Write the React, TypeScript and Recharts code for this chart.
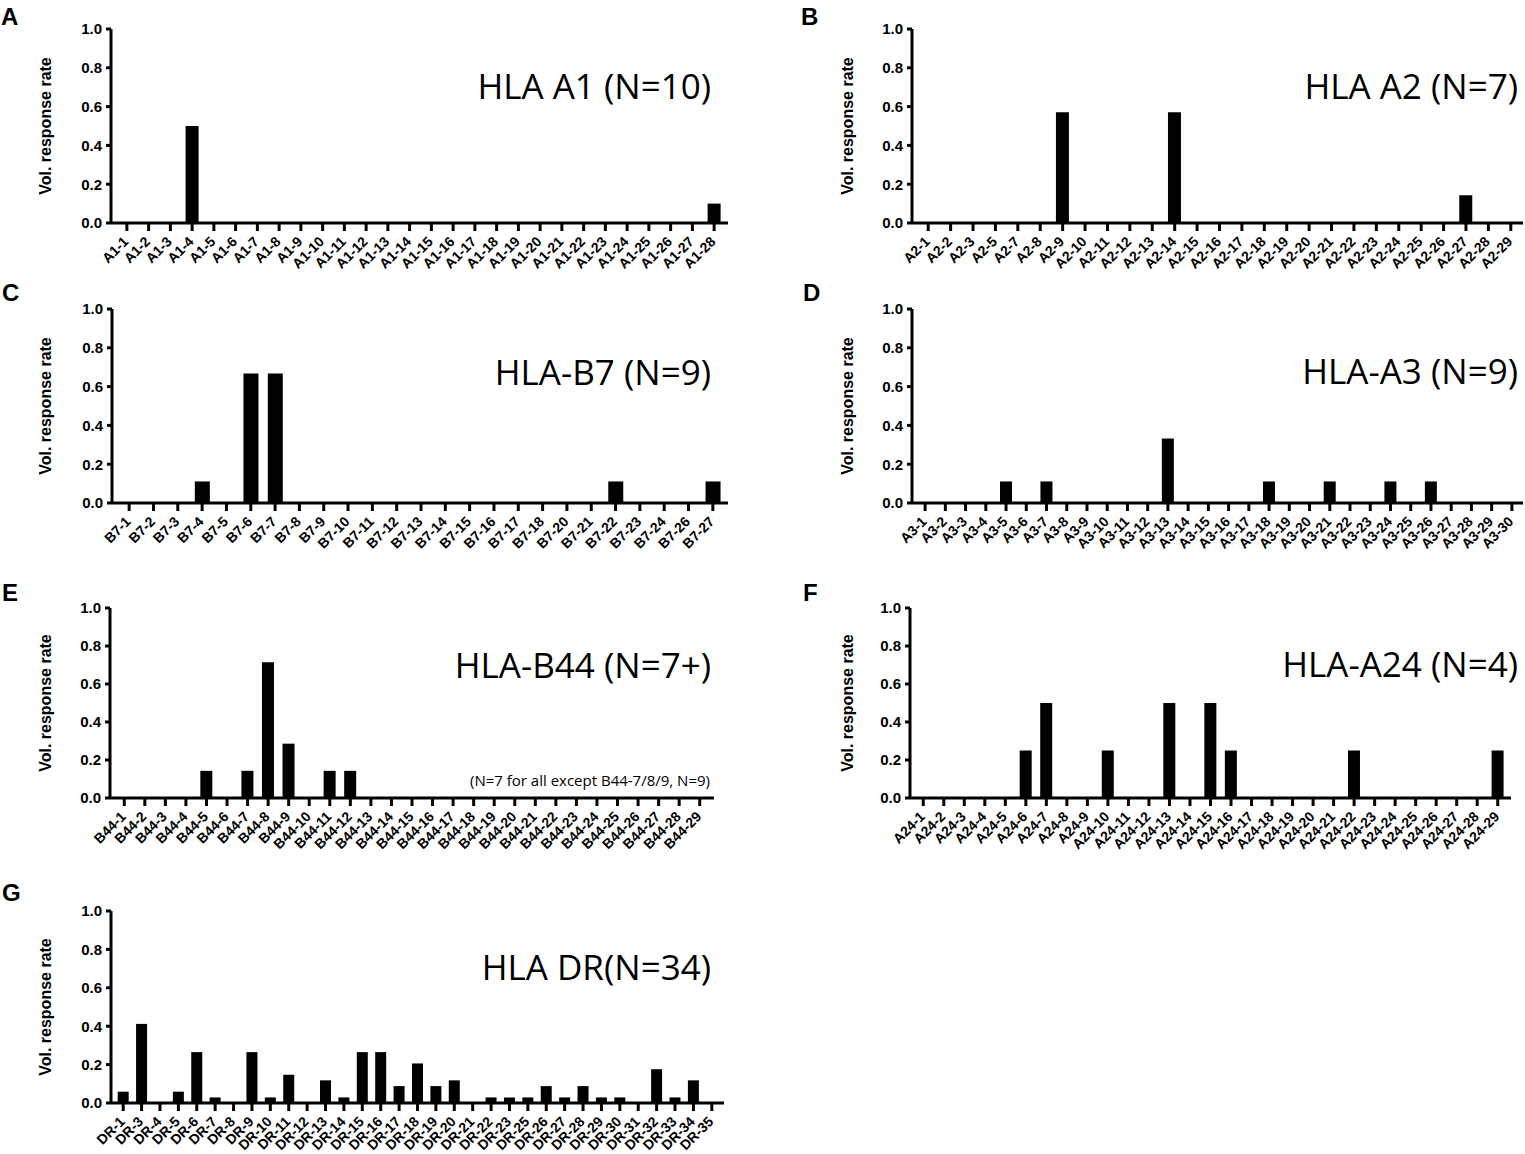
import { Bar, BarChart, XAxis, YAxis } from 'recharts'

const FONT = "'Liberation Sans', Arial, sans-serif"
const TITLE_FONT = "'Open Sans', 'Noto Sans', sans-serif"

const yTicks = [0, 0.2, 0.4, 0.6, 0.8, 1.0]

// A: HLA A1
const a1Labels = [
  'A1-1', 'A1-2', 'A1-3', 'A1-4', 'A1-5', 'A1-6', 'A1-7', 'A1-8', 'A1-9', 'A1-10',
  'A1-11', 'A1-12', 'A1-13', 'A1-14', 'A1-15', 'A1-16', 'A1-17', 'A1-18', 'A1-19', 'A1-20',
  'A1-21', 'A1-22', 'A1-23', 'A1-24', 'A1-25', 'A1-26', 'A1-27', 'A1-28',
]
const a1Values = [
  0, 0, 0, 0.5, 0, 0, 0, 0, 0, 0,
  0, 0, 0, 0, 0, 0, 0, 0, 0, 0,
  0, 0, 0, 0, 0, 0, 0, 0.1,
]

// B: HLA A2
const a2Labels = [
  'A2-1', 'A2-2', 'A2-3', 'A2-5', 'A2-7', 'A2-8', 'A2-9', 'A2-10', 'A2-11', 'A2-12',
  'A2-13', 'A2-14', 'A2-15', 'A2-16', 'A2-17', 'A2-18', 'A2-19', 'A2-20', 'A2-21', 'A2-22',
  'A2-23', 'A2-24', 'A2-25', 'A2-26', 'A2-27', 'A2-28', 'A2-29',
]
const a2Values = [
  0, 0, 0, 0, 0, 0, 0.571, 0, 0, 0,
  0, 0.571, 0, 0, 0, 0, 0, 0, 0, 0,
  0, 0, 0, 0, 0.143, 0, 0,
]

// C: HLA-B7
const b7Labels = [
  'B7-1', 'B7-2', 'B7-3', 'B7-4', 'B7-5', 'B7-6', 'B7-7', 'B7-8', 'B7-9', 'B7-10',
  'B7-11', 'B7-12', 'B7-13', 'B7-14', 'B7-15', 'B7-16', 'B7-17', 'B7-18', 'B7-20', 'B7-21',
  'B7-22', 'B7-23', 'B7-24', 'B7-26', 'B7-27',
]
const b7Values = [
  0, 0, 0, 0.111, 0, 0.667, 0.667, 0, 0, 0,
  0, 0, 0, 0, 0, 0, 0, 0, 0, 0,
  0.111, 0, 0, 0, 0.111,
]

// D: HLA-A3
const a3Labels = [
  'A3-1', 'A3-2', 'A3-3', 'A3-4', 'A3-5', 'A3-6', 'A3-7', 'A3-8', 'A3-9', 'A3-10',
  'A3-11', 'A3-12', 'A3-13', 'A3-14', 'A3-15', 'A3-16', 'A3-17', 'A3-18', 'A3-19', 'A3-20',
  'A3-21', 'A3-22', 'A3-23', 'A3-24', 'A3-25', 'A3-26', 'A3-27', 'A3-28', 'A3-29', 'A3-30',
]
const a3Values = [
  0, 0, 0, 0, 0.111, 0, 0.111, 0, 0, 0,
  0, 0, 0.333, 0, 0, 0, 0, 0.111, 0, 0,
  0.111, 0, 0, 0.111, 0, 0.111, 0, 0, 0, 0,
]

// E: HLA-B44
const b44Labels = [
  'B44-1', 'B44-2', 'B44-3', 'B44-4', 'B44-5', 'B44-6', 'B44-7', 'B44-8', 'B44-9', 'B44-10',
  'B44-11', 'B44-12', 'B44-13', 'B44-14', 'B44-15', 'B44-16', 'B44-17', 'B44-18', 'B44-19', 'B44-20',
  'B44-21', 'B44-22', 'B44-23', 'B44-24', 'B44-25', 'B44-26', 'B44-27', 'B44-28', 'B44-29',
]
const b44Values = [
  0, 0, 0, 0, 0.143, 0, 0.143, 0.714, 0.286, 0,
  0.143, 0.143, 0, 0, 0, 0, 0, 0, 0, 0,
  0, 0, 0, 0, 0, 0, 0, 0, 0,
]

// F: HLA-A24
const a24Labels = [
  'A24-1', 'A24-2', 'A24-3', 'A24-4', 'A24-5', 'A24-6', 'A24-7', 'A24-8', 'A24-9', 'A24-10',
  'A24-11', 'A24-12', 'A24-13', 'A24-14', 'A24-15', 'A24-16', 'A24-17', 'A24-18', 'A24-19', 'A24-20',
  'A24-21', 'A24-22', 'A24-23', 'A24-24', 'A24-25', 'A24-26', 'A24-27', 'A24-28', 'A24-29',
]
const a24Values = [
  0, 0, 0, 0, 0, 0.25, 0.5, 0, 0, 0.25,
  0, 0, 0.5, 0, 0.5, 0.25, 0, 0, 0, 0,
  0, 0.25, 0, 0, 0, 0, 0, 0, 0.25,
]

// G: HLA DR
const drLabels = [
  'DR-1', 'DR-3', 'DR-4', 'DR-5', 'DR-6', 'DR-7', 'DR-8', 'DR-9', 'DR-10', 'DR-11',
  'DR-12', 'DR-13', 'DR-14', 'DR-15', 'DR-16', 'DR-17', 'DR-18', 'DR-19', 'DR-20', 'DR-21',
  'DR-22', 'DR-23', 'DR-25', 'DR-26', 'DR-27', 'DR-28', 'DR-29', 'DR-30', 'DR-31', 'DR-32',
  'DR-33', 'DR-34', 'DR-35',
]
const drValues = [
  0.059, 0.412, 0, 0.059, 0.265, 0.029, 0, 0.265, 0.029, 0.147,
  0, 0.118, 0.029, 0.265, 0.265, 0.088, 0.206, 0.088, 0.118, 0,
  0.029, 0.029, 0.029, 0.088, 0.029, 0.088, 0.029, 0.029, 0, 0.176,
  0.029, 0.118, 0,
]

type Box = { left: number; top: number; width: number; height: number }
type Plot = { l: number; t: number; r: number; b: number }

type PanelDef = {
  letter: string
  title: string
  note?: string
  labels: string[]
  values: number[]
  box: Box
  plot: Plot
  pad: [number, number]
  labelX: number
  letterPos: [number, number]
  titlePos: [number, number]
  notePos?: [number, number]
}

const panels: PanelDef[] = [
  {
    letter: 'A', title: 'HLA A1 (N=10)', labels: a1Labels, values: a1Values,
    box: { left: 0, top: 0, width: 740, height: 290 },
    plot: { l: 111, t: 29, r: 728, b: 223 }, pad: [5, 3], labelX: 45,
    letterPos: [1, 25], titlePos: [711, 99],
  },
  {
    letter: 'B', title: 'HLA A2 (N=7)', labels: a2Labels, values: a2Values,
    box: { left: 780, top: 0, width: 745, height: 290 },
    plot: { l: 912, t: 29, r: 1523, b: 223 }, pad: [5, 1], labelX: 847,
    letterPos: [801, 25], titlePos: [1518, 99],
  },
  {
    letter: 'C', title: 'HLA-B7 (N=9)', labels: b7Labels, values: b7Values,
    box: { left: 0, top: 290, width: 740, height: 290 },
    plot: { l: 112, t: 309, r: 728, b: 503 }, pad: [5, 3], labelX: 45,
    letterPos: [2, 301], titlePos: [711, 385],
  },
  {
    letter: 'D', title: 'HLA-A3 (N=9)', labels: a3Labels, values: a3Values,
    box: { left: 780, top: 290, width: 745, height: 290 },
    plot: { l: 912, t: 309, r: 1523, b: 503 }, pad: [3, 1], labelX: 847,
    letterPos: [803, 301], titlePos: [1518, 384],
  },
  {
    letter: 'E', title: 'HLA-B44 (N=7+)', note: '(N=7 for all except B44-7/8/9, N=9)',
    labels: b44Labels, values: b44Values,
    box: { left: 0, top: 580, width: 740, height: 300 },
    plot: { l: 110, t: 608, r: 714, b: 798 }, pad: [4, 4], labelX: 45,
    letterPos: [2, 601], titlePos: [711, 678], notePos: [710, 786],
  },
  {
    letter: 'F', title: 'HLA-A24 (N=4)', labels: a24Labels, values: a24Values,
    box: { left: 780, top: 580, width: 745, height: 300 },
    plot: { l: 910, t: 608, r: 1511, b: 798 }, pad: [3, 3], labelX: 847,
    letterPos: [803, 601], titlePos: [1518, 677],
  },
  {
    letter: 'G', title: 'HLA DR(N=34)', labels: drLabels, values: drValues,
    box: { left: 0, top: 880, width: 740, height: 274 },
    plot: { l: 111, t: 911, r: 724, b: 1103 }, pad: [3, 3], labelX: 45,
    letterPos: [2, 901], titlePos: [711, 980],
  },
]

const X_AXIS_H = 45
const LABEL_OFFSET = 25

const XTick = (props: any) => {
  const { x, y, payload } = props
  return (
    <g transform={`translate(${x - 1},${y + 2})`}>
      <text
        textAnchor="end"
        dy="0.35em"
        transform="rotate(-45)"
        fontFamily={FONT}
        fontWeight="bold"
        fontSize={14}
        fill="#000"
      >
        {payload.value}
      </text>
    </g>
  )
}

function Panel({ p }: { p: PanelDef }) {
  const data = p.labels.map((name, i) => ({ name, value: p.values[i] }))
  const marginLeft = p.labelX - LABEL_OFFSET - p.box.left
  const yWidth = p.plot.l - p.box.left - marginLeft
  const margin = {
    top: p.plot.t - p.box.top,
    left: marginLeft,
    right: p.box.left + p.box.width - p.plot.r,
    bottom: p.box.top + p.box.height - p.plot.b - X_AXIS_H,
  }
  const axisStyle = { stroke: '#000', strokeWidth: 3 }
  return (
    <div style={{ position: 'absolute', left: p.box.left, top: p.box.top }}>
      <BarChart width={p.box.width} height={p.box.height} data={data} margin={margin} barCategoryGap="20%">
        <XAxis
          dataKey="name"
          type="category"
          interval={0}
          height={X_AXIS_H}
          padding={{ left: p.pad[0], right: p.pad[1] }}
          axisLine={axisStyle}
          tickLine={axisStyle}
          tickSize={8}
          tickMargin={6}
          tick={<XTick />}
        />
        <YAxis
          type="number"
          domain={[0, 1]}
          ticks={yTicks}
          interval={0}
          width={yWidth}
          tickFormatter={(v: number) => v.toFixed(1)}
          axisLine={axisStyle}
          tickLine={axisStyle}
          tickSize={5}
          tickMargin={4}
          tick={{ fill: '#000', fontSize: 15, fontWeight: 'bold', fontFamily: FONT }}
          label={{
            value: 'Vol. response rate',
            angle: -90,
            position: 'insideLeft',
            offset: LABEL_OFFSET,
            style: { textAnchor: 'middle', fontSize: 16, fontWeight: 'bold', fontFamily: FONT, fill: '#000' },
          }}
        />
        <Bar dataKey="value" fill="#000" isAnimationActive={false} />
      </BarChart>
    </div>
  )
}

export default function App() {
  return (
    <div style={{ position: 'absolute', left: 0, top: 0, width: 1525, height: 1154, background: '#fff' }}>
      {panels.map((p) => (
        <Panel key={p.letter} p={p} />
      ))}
      <svg
        width={1525}
        height={1154}
        style={{ position: 'absolute', left: 0, top: 0, pointerEvents: 'none' }}
      >
        {panels.map((p) => (
          <g key={p.letter}>
            <text x={p.letterPos[0]} y={p.letterPos[1]} fontFamily={FONT} fontWeight="bold" fontSize={24} fill="#000">
              {p.letter}
            </text>
            <text x={p.titlePos[0]} y={p.titlePos[1]} textAnchor="end" fontFamily={TITLE_FONT} fontSize={35} fill="#000">
              {p.title}
            </text>
            {p.note && p.notePos && (
              <text x={p.notePos[0]} y={p.notePos[1]} textAnchor="end" fontFamily={TITLE_FONT} fontSize={15} fill="#000">
                {p.note}
              </text>
            )}
          </g>
        ))}
      </svg>
    </div>
  )
}
